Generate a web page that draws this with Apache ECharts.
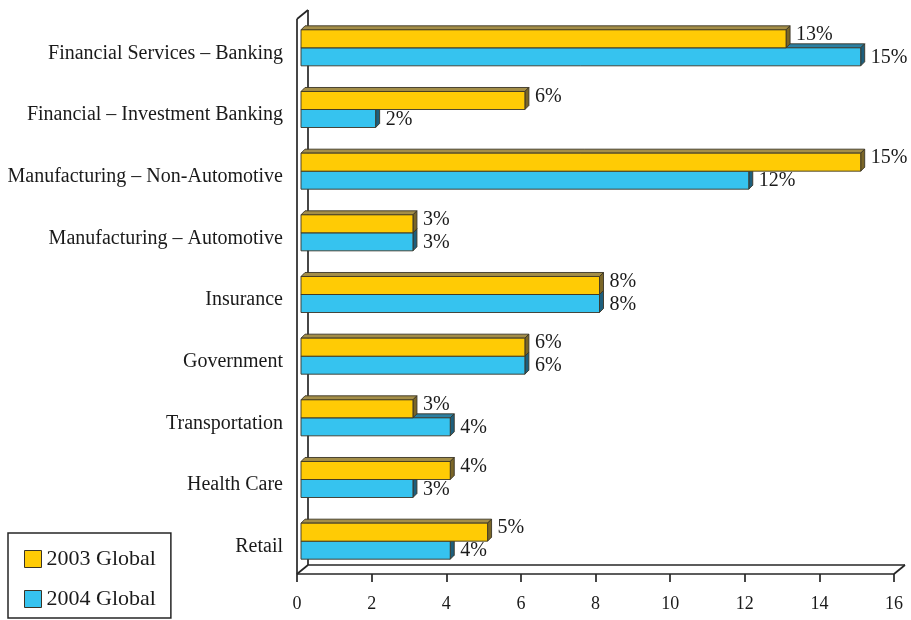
<!DOCTYPE html>
<html>
<head>
<meta charset="utf-8">
<script src="https://cdn.jsdelivr.net/npm/echarts@6/dist/echarts.min.js"></script>
<style>
  html, body { margin: 0; padding: 0; background: #fff; }
  #chart { width: 911px; height: 620px; }
</style>
</head>
<body>
<div id="chart"></div>
<script>
// Industry share by year
const categories = [
  'Financial Services – Banking',
  'Financial – Investment Banking',
  'Manufacturing – Non-Automotive',
  'Manufacturing – Automotive',
  'Insurance',
  'Government',
  'Transportation',
  'Health Care',
  'Retail'
];
const values2003 = [13, 6, 15, 3, 8, 6, 3, 4, 5];
const values2004 = [15, 2, 12, 3, 8, 6, 4, 3, 4];
const seriesNames = ['2003 Global', '2004 Global'];
const axisMin = 0, axisMax = 16, axisStep = 2;

const FONT = 'Liberation Serif';
const INK = '#262626';
const TEXT = '#1a1a1a';
// bar shift from the front plane, bar depth, wall/floor depth
const BAR_SHIFT = [4, -2];
const BAR_DEPTH = 4;
const WALL_DEPTH = [11, -9];

const palettes = [
  { front: '#FFCB05', top: '#A48E48', side: '#7A6628' },
  { front: '#36C3EF', top: '#2A7FA2', side: '#1D5F7D' }
];

function makeBarRenderer(slot) {
  const pal = palettes[slot];
  return function (params, api) {
    const v = api.value(0);
    const ci = api.value(1);
    const band = api.size([0, 1])[1];
    const h = band * 0.292;
    const p0 = api.coord([0, ci]);
    const p1 = api.coord([v, ci]);
    const x0 = p0[0] + BAR_SHIFT[0];
    const x1 = p1[0] + BAR_SHIFT[0];
    const yc = p0[1] + BAR_SHIFT[1];
    const yTop = slot === 0 ? yc - h : yc;
    const yBot = yTop + h;
    const d = BAR_DEPTH;
    const stroke = { stroke: '#3a3426', lineWidth: 0.9 };
    return {
      type: 'group',
      children: [
        { type: 'polygon', shape: { points: [[x0, yTop], [x1, yTop], [x1 + d, yTop - d], [x0 + d, yTop - d]] },
          style: Object.assign({ fill: pal.top }, stroke) },
        { type: 'polygon', shape: { points: [[x1, yTop], [x1 + d, yTop - d], [x1 + d, yBot - d], [x1, yBot]] },
          style: Object.assign({ fill: pal.side }, stroke) },
        { type: 'rect', shape: { x: x0, y: yTop, width: x1 - x0, height: h },
          style: Object.assign({ fill: pal.front }, stroke) },
        { type: 'text', x: x1 + d + 6, y: slot === 0 ? (yTop + yBot) / 2 - 4 : (yTop + yBot) / 2 + 1,
          style: { text: v + '%', fill: TEXT, font: '20px "' + FONT + '"', verticalAlign: 'middle', align: 'left' } }
      ]
    };
  };
}

// back wall and floor of the 3D frame
function frameRenderer(params) {
  const cs = params.coordSys;
  const gx = cs.x, gy = cs.y, gw = cs.width, gh = cs.height;
  const dx = WALL_DEPTH[0], dy = WALL_DEPTH[1];
  const ls = { stroke: INK, lineWidth: 1.7, fill: null };
  const line = (a, b) => ({ type: 'line', shape: { x1: a[0], y1: a[1], x2: b[0], y2: b[1] }, style: ls });
  const by = gy + gh;
  return {
    type: 'group',
    children: [
      { type: 'polygon', shape: { points: [[gx, by], [gx + gw, by], [gx + gw + dx, by + dy], [gx + dx, by + dy]] },
        style: { fill: '#fff' } },
      line([gx, gy], [gx, by]),
      line([gx + dx, gy + dy], [gx + dx, by + dy]),
      line([gx, gy], [gx + dx, gy + dy]),
      line([gx, by], [gx + gw, by]),
      line([gx + dx, by + dy], [gx + gw + dx, by + dy]),
      line([gx + gw, by], [gx + gw + dx, by + dy]),
      line([gx, by], [gx + dx, by + dy])
    ]
  };
}

const chart = echarts.init(document.getElementById('chart'), null, { renderer: 'canvas' });

chart.setOption({
  backgroundColor: '#ffffff',
  animation: false,
  textStyle: { fontFamily: FONT },
  grid: { left: 297, right: 17, top: 19, bottom: 46, containLabel: false },
  xAxis: {
    type: 'value',
    min: axisMin, max: axisMax, interval: axisStep,
    axisLine: { show: false },
    axisTick: { show: true, length: 8, lineStyle: { color: INK, width: 1.7 } },
    splitLine: { show: false },
    axisLabel: { color: TEXT, fontSize: 18, fontFamily: FONT, margin: 21 }
  },
  yAxis: {
    type: 'category',
    data: categories,
    inverse: true,
    axisLine: { show: false },
    axisTick: { show: false },
    axisLabel: {
      color: TEXT, fontSize: 20, fontFamily: FONT, margin: 14,
      formatter: (v) => '{c|' + v + '}',
      rich: { c: { fontSize: 20, fontFamily: FONT, color: TEXT, padding: [7, 0, 0, 0] } }
    }
  },
  legend: {
    orient: 'vertical',
    left: 8, top: 533,
    padding: [15, 15, 8, 16],
    itemGap: 18,
    itemWidth: 17, itemHeight: 17,
    icon: 'rect',
    borderColor: INK, borderWidth: 1.5,
    textStyle: { fontSize: 22, fontFamily: FONT, color: TEXT },
    data: [
      { name: seriesNames[0], itemStyle: { color: palettes[0].front, borderColor: '#3a3426', borderWidth: 1 } },
      { name: seriesNames[1], itemStyle: { color: palettes[1].front, borderColor: '#3a3426', borderWidth: 1 } }
    ]
  },
  series: [
    {
      type: 'custom', name: 'frame', silent: true, z: 1,
      renderItem: frameRenderer,
      data: [[0, 0]],
      encode: { x: 0, y: 1 }
    },
    {
      type: 'custom', name: seriesNames[1], z: 2,
      itemStyle: { color: palettes[1].front },
      renderItem: makeBarRenderer(1),
      data: values2004.map((v, i) => [v, i]),
      encode: { x: 0, y: 1 }
    },
    {
      type: 'custom', name: seriesNames[0], z: 3,
      itemStyle: { color: palettes[0].front },
      renderItem: makeBarRenderer(0),
      data: values2003.map((v, i) => [v, i]),
      encode: { x: 0, y: 1 }
    }
  ]
});
</script>
</body>
</html>
